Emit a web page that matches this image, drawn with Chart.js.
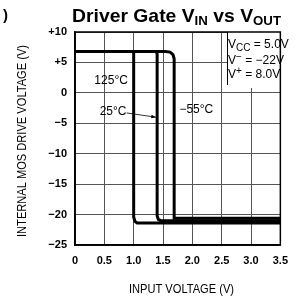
<!DOCTYPE html>
<html>
<head>
<meta charset="utf-8">
<script src="https://cdn.jsdelivr.net/npm/chart.js@4/dist/chart.umd.min.js"></script>
<style>
  html, body { margin: 0; padding: 0; background: #fff; }
  #wrap { width: 297px; height: 301px; position: relative; }
</style>
</head>
<body>
<div id="wrap"><canvas id="c" width="297" height="301"></canvas></div>
<script>
// input voltage (V) vs internal MOS drive voltage (V)
const t125 = [[0, 6.8], [1.0, 6.8], [1.0, -20.4], [1.02, -21.1], [1.06, -21.4], [3.5, -21.4]];
const t25 = [[0, 6.8], [1.38, 6.8], [1.40, 6.4], [1.40, -20.2], [1.42, -20.8], [1.46, -21.0], [3.5, -21.0]];
const tm55 = [[0, 6.8], [1.54, 6.8], [1.62, 6.7], [1.67, 6.3], [1.69, 5.6], [1.69, -20.6], [3.5, -20.6]];

const xTicks = [0, 0.5, 1.0, 1.5, 2.0, 2.5, 3.0, 3.5];
const yTicks = [10, 5, 0, -5, -10, -15, -20, -25];

const curveLabels = [
  { text: "125\u00B0C", x: 0.33, y: 2.0 },
  { text: "25\u00B0C", x: 0.42, y: -3.1 },
  { text: "\u221255\u00B0C", x: 1.78, y: -2.8 },
];
const leader = { from: [0.88, -3.3], to: [1.38, -4.0] };

const FONT = "'Liberation Sans', Arial, sans-serif";

function pts(arr) { return arr.map(p => ({ x: p[0], y: p[1] })); }

const overlay = {
  id: "overlay",
  afterDraw(chart) {
    const { ctx, chartArea: a, scales: { x, y } } = chart;
    ctx.save();

    // condition box (covers grid in the top right corner)
    ctx.fillStyle = "#fff";
    ctx.fillRect(227, a.top, a.right - 227, 56);
    ctx.strokeStyle = "#000";
    ctx.lineWidth = 1;
    ctx.beginPath();
    ctx.moveTo(227.5, a.top);
    ctx.lineTo(227.5, a.top + 53);
    ctx.stroke();

    // frame
    ctx.lineWidth = 1.5;
    ctx.strokeRect(a.left, a.top, a.right - a.left, a.bottom - a.top);

    ctx.fillStyle = "#000";
    ctx.textBaseline = "alphabetic";

    // title with subscripts, fitted to the reference width
    const parts = [
      ["Driver Gate V", 19, 0], ["IN", 13, 3], [" vs V", 19, 0], ["OUT", 13, 3],
    ];
    let w = 0;
    parts.forEach(p => { ctx.font = `bold ${p[1]}px ${FONT}`; w += ctx.measureText(p[0]).width; });
    const k = 209 / w;
    ctx.save();
    ctx.translate(72, 22);
    ctx.scale(k, 1);
    let tx = 0;
    parts.forEach(p => {
      ctx.font = `bold ${p[1]}px ${FONT}`;
      ctx.fillText(p[0], tx, p[2]);
      tx += ctx.measureText(p[0]).width;
    });
    ctx.restore();
    ctx.font = `bold 15px ${FONT}`;
    ctx.fillText(")", 3, 20);

    // conditions text
    function line(segs, bx, by) {
      let cx = bx;
      segs.forEach(s => {
        ctx.font = `${s[1]}px ${FONT}`;
        ctx.fillText(s[0], cx, by + s[2]);
        cx += ctx.measureText(s[0]).width;
      });
    }
    line([["V", 12, 0], ["CC", 10, 3], [" = 5.0V", 12, 0]], 228, 48);
    line([["V", 12, 0], ["\u2212", 10, -4], [" = \u221222V", 12, 0]], 228, 64);
    line([["V", 12, 0], ["+", 10, -4], [" = 8.0V", 12, 0]], 228, 78);

    // curve labels
    ctx.font = `12px ${FONT}`;
    ctx.textBaseline = "middle";
    curveLabels.forEach(l => ctx.fillText(l.text, x.getPixelForValue(l.x), y.getPixelForValue(l.y)));

    // leader line + arrow to the 25°C curve
    const x0 = x.getPixelForValue(leader.from[0]), y0 = y.getPixelForValue(leader.from[1]);
    const x1 = x.getPixelForValue(leader.to[0]), y1 = y.getPixelForValue(leader.to[1]);
    ctx.lineWidth = 0.8;
    ctx.beginPath(); ctx.moveTo(x0, y0); ctx.lineTo(x1, y1); ctx.stroke();
    const ang = Math.atan2(y1 - y0, x1 - x0);
    ctx.beginPath();
    ctx.moveTo(x1, y1);
    ctx.lineTo(x1 - 5 * Math.cos(ang - 0.35), y1 - 5 * Math.sin(ang - 0.35));
    ctx.lineTo(x1 - 5 * Math.cos(ang + 0.35), y1 - 5 * Math.sin(ang + 0.35));
    ctx.closePath(); ctx.fill();

    // axis titles (condensed look: squeeze to reference width)
    ctx.textAlign = "center";
    ctx.font = `12px ${FONT}`;
    let s = "INPUT VOLTAGE (V)";
    let m = ctx.measureText(s).width;
    ctx.save();
    ctx.translate(181.5, 290);
    ctx.scale(105 / m, 1);
    ctx.fillText(s, 0, 0);
    ctx.restore();

    s = "INTERNAL MOS DRIVE VOLTAGE (V)";
    m = ctx.measureText(s).width;
    ctx.save();
    ctx.translate(23, 141);
    ctx.rotate(-Math.PI / 2);
    ctx.scale(192 / m, 1);
    ctx.fillText(s, 0, 0);
    ctx.restore();

    ctx.restore();
  },
};

function ds(label, arr) {
  return {
    label, data: pts(arr), showLine: true, borderColor: "#000",
    borderWidth: 3, pointRadius: 0, fill: false, tension: 0,
  };
}

new Chart(document.getElementById("c"), {
  type: "scatter",
  data: { datasets: [ds("125\u00B0C", t125), ds("25\u00B0C", t25), ds("-55\u00B0C", tm55)] },
  options: {
    responsive: false,
    animation: false,
    layout: { padding: { top: 32, right: 10, left: 0, bottom: 0 } },
    plugins: { legend: { display: false }, tooltip: { enabled: false } },
    scales: {
      x: {
        type: "linear", min: 0, max: 3.5,
        afterBuildTicks: s => { s.ticks = xTicks.map(v => ({ value: v })); },
        afterFit: s => { s.height = 56; },
        grid: { color: "#555", lineWidth: 1, drawTicks: false },
        border: { color: "#000", width: 1.5 },
        ticks: {
          color: "#000", padding: 9, maxRotation: 0,
          font: { family: FONT, size: 11, weight: "bold" },
          callback: v => (v === 0 ? "0" : v.toFixed(1)),
        },
      },
      y: {
        type: "linear", min: -25, max: 10,
        afterBuildTicks: s => { s.ticks = yTicks.map(v => ({ value: v })); },
        afterFit: s => { s.width = 75; },
        grid: { color: "#555", lineWidth: 1, drawTicks: false },
        border: { color: "#000", width: 1.5 },
        ticks: {
          color: "#000", padding: 8,
          font: { family: FONT, size: 11, weight: "bold" },
          callback: v => (v > 0 ? "+" + v : v < 0 ? "\u2212" + Math.abs(v) : "0"),
        },
      },
    },
  },
  plugins: [overlay],
});
</script>
</body>
</html>
